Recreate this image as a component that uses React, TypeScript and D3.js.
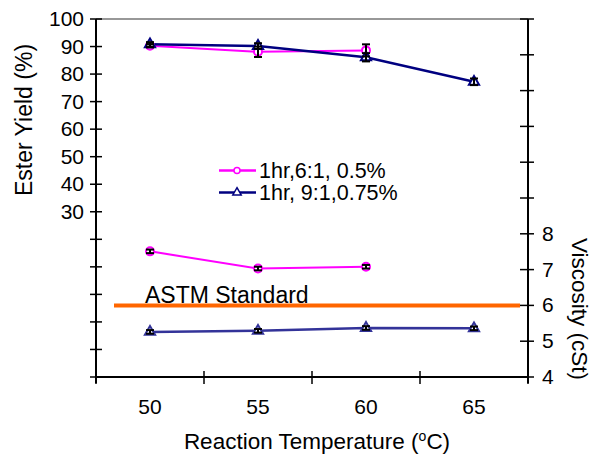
import React, { useEffect, useRef } from "react"
import * as d3 from "d3"

// reaction temperature categories (°C)
const temps = ["50", "55", "60", "65"]

// ester yield (%) and error
const yield6 = [90.3, 88.1, 88.6]
const yield6Err = [0.6, 1.9, 2.2]
const yield9 = [90.8, 90.2, 86.1, 77.2]
const yield9Err = [0.8, 1.0, 1.5, 1.2]

// viscosity (cSt) and error
const visc6 = [7.51, 7.03, 7.08]
const visc9 = [5.26, 5.29, 5.37, 5.36]
const viscErr = 0.05

const astm = 6

const leftTicks = d3.range(-30, 101, 10)
const rightTicks = d3.range(4, 15, 1)

const PINK = "#ff00ff"
const NAVY = "#000080"
const VBLUE = "#333399"
const ORANGE = "#ff6600"
const FONT = "'Liberation Sans', Arial, sans-serif"

function Chart() {
  const ref = useRef<SVGSVGElement>(null)

  useEffect(() => {
    const svg = d3.select(ref.current)
    svg.selectAll("*").remove()

    const left = 96, right = 528, top = 19, bottom = 377

    const x = d3.scaleBand().domain(temps).range([left, right]).padding(0)
    const cx = (i: number) => (x(temps[i]) as number) + x.bandwidth() / 2
    const yL = d3.scaleLinear().domain([-30, 100]).range([bottom, top])
    const yR = d3.scaleLinear().domain([4, 14]).range([bottom, top])

    const g = svg.append("g").attr("font-family", FONT)

    // frame top
    g.append("line")
      .attr("x1", left).attr("x2", right).attr("y1", top).attr("y2", top)
      .attr("stroke", "#333").attr("stroke-width", 1.2)

    // left axis
    g.append("line")
      .attr("x1", left).attr("x2", left).attr("y1", top).attr("y2", bottom + 6)
      .attr("stroke", "#000").attr("stroke-width", 2)
    g.selectAll(".lt").data(leftTicks).join("line")
      .attr("x1", left - 6).attr("x2", left + 6)
      .attr("y1", d => yL(d)).attr("y2", d => yL(d))
      .attr("stroke", "#000").attr("stroke-width", 1.5)
    g.selectAll(".ll").data(leftTicks.filter(d => d >= 30)).join("text")
      .attr("x", left - 12).attr("y", d => yL(d) + 7)
      .attr("text-anchor", "end").attr("font-size", 21)
      .text(d => d)

    // right axis
    g.append("line")
      .attr("x1", right).attr("x2", right).attr("y1", top).attr("y2", bottom + 6)
      .attr("stroke", "#000").attr("stroke-width", 2)
    g.selectAll(".rt").data(rightTicks).join("line")
      .attr("x1", right - 8).attr("x2", right + 6)
      .attr("y1", d => yR(d)).attr("y2", d => yR(d))
      .attr("stroke", "#000").attr("stroke-width", 1.5)
    g.selectAll(".rl").data(rightTicks.filter(d => d <= 8)).join("text")
      .attr("x", right + 14).attr("y", d => yR(d) + 7)
      .attr("font-size", 21)
      .text(d => d)

    // x axis
    g.append("line")
      .attr("x1", left).attr("x2", right).attr("y1", bottom).attr("y2", bottom)
      .attr("stroke", "#000").attr("stroke-width", 2)
    const edges = temps.map(t => x(t) as number).concat([right])
    g.selectAll(".xt").data(edges).join("line")
      .attr("x1", d => d).attr("x2", d => d)
      .attr("y1", (d, i) => (i === 0 || i === edges.length - 1 ? bottom : bottom - 6))
      .attr("y2", bottom + 7)
      .attr("stroke", "#000").attr("stroke-width", 1.5)
    g.selectAll(".xl").data(temps).join("text")
      .attr("x", (d, i) => cx(i)).attr("y", 414)
      .attr("text-anchor", "middle").attr("font-size", 21)
      .text(d => d)

    // titles
    const xt = g.append("text").attr("x", 317).attr("y", 449)
      .attr("text-anchor", "middle").attr("font-size", 22.5)
    xt.append("tspan").text("Reaction Temperature (")
    xt.append("tspan").attr("font-size", 14).attr("dy", -8).text("o")
    xt.append("tspan").attr("dy", 8).text("C)")

    g.append("text")
      .attr("transform", "translate(32,120) rotate(-90)")
      .attr("text-anchor", "middle").attr("font-size", 23)
      .text("Ester Yield (%)")
    g.append("text")
      .attr("transform", "translate(572,309) rotate(90)")
      .attr("text-anchor", "middle").attr("font-size", 22.5)
      .text("Viscosity (cSt)")

    // ASTM standard
    g.append("line")
      .attr("x1", 114).attr("x2", 520).attr("y1", yR(astm)).attr("y2", yR(astm))
      .attr("stroke", ORANGE).attr("stroke-width", 4)
    g.append("text").attr("x", 145).attr("y", 302.5)
      .attr("font-size", 23).text("ASTM Standard")

    const line = (yFn: (v: number) => number) =>
      d3.line<number>().x((d, i) => cx(i)).y(d => yFn(d))

    const errBars = (vals: number[], errs: number[], yFn: (v: number) => number) => {
      const eg = g.append("g").attr("stroke", "#000").attr("stroke-width", 2)
      vals.forEach((v, i) => {
        const x0 = cx(i)
        const y1 = yFn(v + errs[i]), y2 = yFn(v - errs[i])
        eg.append("line").attr("x1", x0).attr("x2", x0).attr("y1", y1).attr("y2", y2)
        eg.append("line").attr("x1", x0 - 4).attr("x2", x0 + 4).attr("y1", y1).attr("y2", y1)
        eg.append("line").attr("x1", x0 - 4).attr("x2", x0 + 4).attr("y1", y2).attr("y2", y2)
      })
    }

    const circles = (vals: number[], yFn: (v: number) => number) => {
      g.append("g").selectAll("circle").data(vals).join("circle")
        .attr("cx", (d, i) => cx(i)).attr("cy", d => yFn(d)).attr("r", 4)
        .attr("fill", "#fff").attr("stroke", PINK).attr("stroke-width", 2)
    }
    const tri = d3.symbol().type(d3.symbolTriangle).size(45)
    const triangles = (vals: number[], yFn: (v: number) => number, color: string) => {
      g.append("g").selectAll("path").data(vals).join("path")
        .attr("d", tri)
        .attr("transform", (d, i) => `translate(${cx(i)},${yFn(d)})`)
        .attr("fill", "#fff").attr("stroke", color).attr("stroke-width", 2)
    }

    // viscosity series
    g.append("path").datum(visc6).attr("d", line(yR)).attr("fill", "none")
      .attr("stroke", PINK).attr("stroke-width", 2)
    g.append("path").datum(visc9).attr("d", line(yR)).attr("fill", "none")
      .attr("stroke", VBLUE).attr("stroke-width", 2.5)
    circles(visc6, yR)
    triangles(visc9, yR, VBLUE)
    errBars(visc6, visc6.map(() => viscErr), yR)
    errBars(visc9, visc9.map(() => viscErr), yR)

    // yield series
    g.append("path").datum(yield6).attr("d", line(yL)).attr("fill", "none")
      .attr("stroke", PINK).attr("stroke-width", 2)
    g.append("path").datum(yield9).attr("d", line(yL)).attr("fill", "none")
      .attr("stroke", NAVY).attr("stroke-width", 2.5)
    circles(yield6, yL)
    triangles(yield9, yL, NAVY)
    errBars(yield6, yield6Err, yL)
    errBars(yield9, yield9Err, yL)

    // legend
    const lg = g.append("g")
    const items = [
      { label: "1hr,6:1, 0.5%", color: PINK, y: 170.5, shape: "circle" },
      { label: "1hr, 9:1,0.75%", color: NAVY, y: 192.5, shape: "tri" }
    ]
    items.forEach(it => {
      lg.append("line").attr("x1", 219).attr("x2", 256).attr("y1", it.y).attr("y2", it.y)
        .attr("stroke", it.color).attr("stroke-width", 2.5)
      if (it.shape === "circle") {
        lg.append("circle").attr("cx", 237).attr("cy", it.y).attr("r", 3)
          .attr("fill", "#fff").attr("stroke", it.color).attr("stroke-width", 1.5)
      } else {
        lg.append("path").attr("d", d3.symbol().type(d3.symbolTriangle).size(30)())
          .attr("transform", `translate(237,${it.y})`)
          .attr("fill", "#fff").attr("stroke", it.color).attr("stroke-width", 1.5)
      }
      lg.append("text").attr("x", 259).attr("y", it.y + 7)
        .attr("font-size", 21.5).text(it.label)
    })
  }, [])

  return <svg ref={ref} width={592} height={455} style={{ display: "block" }} />
}

export default function App() {
  return (
    <div style={{ position: "fixed", top: 0, left: 0, width: 592, height: 455, background: "#fff" }}>
      <Chart />
    </div>
  )
}
